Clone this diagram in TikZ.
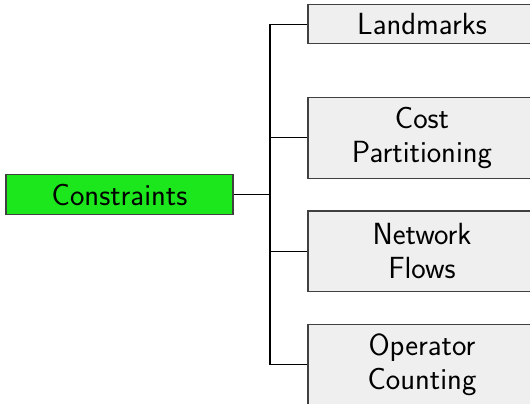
\documentclass[tikz,border=0pt]{standalone}
\begin{document}
\begin{tikzpicture}[x=1pt, y=-1pt,
  every node/.style={font=\sffamily\fontsize{30.6}{34}\selectfont, align=center, inner sep=0pt},
  rootbox/.style={draw=black!75, fill=rootgreen, line width=1.1pt, minimum width=227pt, minimum height=39.5pt},
  leafbox/.style={draw=black!75, fill=leafgray, line width=1.1pt, minimum width=228pt},
  oneline/.style={minimum height=39.5pt},
  twoline/.style={minimum height=80.5pt},
  link/.style={draw=black, line width=1.1pt}]
\definecolor{rootgreen}{RGB}{28,230,28}
\definecolor{leafgray}{RGB}{239,239,239}
\useasboundingbox (0,0) rectangle (530,404);

% root of the tree
\node[rootbox] (root) at (119.5,194.5) {Constraints};

% the four kinds of constraints
\node[leafbox, oneline] (lm) at (422,24.2) {Landmarks};
\node[leafbox, twoline] (cp) at (422,137.8) {Cost\\Partitioning};
\node[leafbox, twoline] (nf) at (422,251.2) {Network\\Flows};
\node[leafbox, twoline] (oc) at (422,364.5) {Operator\\Counting};

% bus joining the root to its children
\coordinate (bus) at (270,194.5);
\draw[link] (root.east) -- (bus);
\draw[link] (bus |- lm.west) -- (bus |- oc.west);
\foreach \leaf in {lm,cp,nf,oc}
  \draw[link] (bus |- \leaf.west) -- (\leaf.west);
\end{tikzpicture}
\end{document}
